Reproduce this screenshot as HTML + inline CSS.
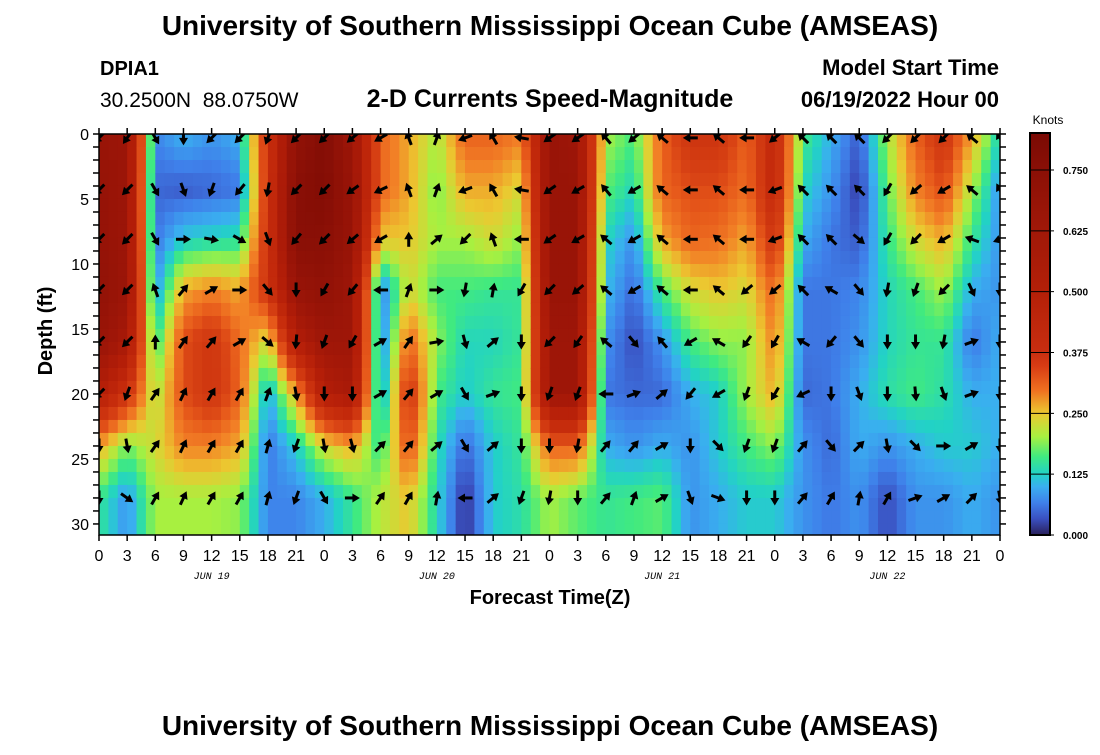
<!DOCTYPE html>
<html><head><meta charset="utf-8">
<style>
body{margin:0;background:#fff;}
svg text{font-family:"Liberation Sans",sans-serif;}
</style></head>
<body>
<svg id="chart" width="1100" height="750" xmlns="http://www.w3.org/2000/svg">
<rect width="1100" height="750" fill="#fff"/>
<text x="550" y="35" text-anchor="middle" font-size="28" font-weight="bold">University of Southern Mississippi Ocean Cube (AMSEAS)</text>
<text x="100" y="75" font-size="20" font-weight="bold">DPIA1</text>
<text x="100" y="107" font-size="21">30.2500N&#160;&#160;88.0750W</text>
<text x="550" y="107" text-anchor="middle" font-size="25" font-weight="bold">2-D Currents Speed-Magnitude</text>
<text x="999" y="75" text-anchor="end" font-size="22" font-weight="bold">Model Start Time</text>
<text x="999" y="107" text-anchor="end" font-size="22" font-weight="bold">06/19/2022 Hour 00</text>
<text transform="translate(52,331) rotate(-90)" text-anchor="middle" font-size="20" font-weight="bold">Depth (ft)</text>
<text x="550" y="604" text-anchor="middle" font-size="20" font-weight="bold">Forecast Time(Z)</text>
<text x="550" y="735" text-anchor="middle" font-size="28" font-weight="bold">University of Southern Mississippi Ocean Cube (AMSEAS)</text>
<defs><clipPath id="plotclip"><rect x="99" y="134" width="901" height="401"/></clipPath>
<linearGradient id="cbgrad" x1="0" y1="1" x2="0" y2="0">
<stop offset="0" stop-color="#2a1f5a"/><stop offset="0.04" stop-color="#3a50c0"/><stop offset="0.08" stop-color="#3f80ea"/>
<stop offset="0.12" stop-color="#3aaef0"/><stop offset="0.152" stop-color="#22d2c6"/><stop offset="0.195" stop-color="#40ea80"/>
<stop offset="0.245" stop-color="#a8f040"/><stop offset="0.303" stop-color="#ecc830"/><stop offset="0.36" stop-color="#f07020"/>
<stop offset="0.42" stop-color="#d83c14"/><stop offset="0.455" stop-color="#c82e10"/><stop offset="0.6" stop-color="#b42008"/>
<stop offset="0.76" stop-color="#a01808"/><stop offset="0.9" stop-color="#8c1006"/><stop offset="1" stop-color="#7a0a04"/>
</linearGradient></defs>
<g id="heat" clip-path="url(#plotclip)"></g>
<g id="arrows" clip-path="url(#plotclip)"></g>
<g id="axes"></g>
<g id="cbar"></g>
</svg>
<script>
const times = [0,3,6,9,12,15,18,21,24,27,30,33,36,39,42,45,48,51,54,57,60,63,66,69,72,75,78,81,84,87,90,93,96];
const depths = [0.3,4.3,8.1,12,16,20,24,28];
const speed = [
[0.68,0.70,0.70,0.72,0.68,0.55,0.27,0.15],
[0.66,0.66,0.66,0.66,0.60,0.42,0.18,0.08],
[0.07,0.05,0.06,0.08,0.14,0.20,0.23,0.20],
[0.10,0.04,0.12,0.27,0.36,0.36,0.30,0.20],
[0.08,0.05,0.13,0.30,0.42,0.42,0.30,0.20],
[0.10,0.06,0.14,0.27,0.32,0.33,0.27,0.19],
[0.42,0.42,0.42,0.42,0.22,0.09,0.06,0.07],
[0.72,0.76,0.76,0.68,0.55,0.27,0.12,0.07],
[0.79,0.79,0.76,0.72,0.65,0.55,0.23,0.10],
[0.65,0.68,0.68,0.65,0.65,0.60,0.27,0.15],
[0.33,0.33,0.25,0.06,0.06,0.07,0.14,0.21],
[0.27,0.27,0.25,0.23,0.33,0.42,0.36,0.25],
[0.20,0.18,0.20,0.16,0.19,0.16,0.14,0.13],
[0.33,0.27,0.20,0.16,0.13,0.12,0.05,0.01],
[0.33,0.27,0.23,0.15,0.13,0.15,0.12,0.12],
[0.30,0.23,0.19,0.15,0.15,0.16,0.15,0.14],
[0.68,0.68,0.68,0.68,0.65,0.65,0.33,0.20],
[0.65,0.68,0.68,0.68,0.65,0.65,0.33,0.17],
[0.20,0.17,0.13,0.11,0.08,0.06,0.10,0.15],
[0.16,0.13,0.08,0.05,0.03,0.05,0.08,0.16],
[0.33,0.33,0.27,0.16,0.08,0.05,0.10,0.17],
[0.42,0.36,0.33,0.23,0.16,0.10,0.08,0.08],
[0.42,0.36,0.32,0.25,0.19,0.12,0.12,0.10],
[0.33,0.32,0.27,0.23,0.19,0.20,0.16,0.12],
[0.48,0.48,0.42,0.33,0.30,0.27,0.19,0.12],
[0.16,0.13,0.10,0.06,0.06,0.05,0.08,0.08],
[0.10,0.08,0.06,0.06,0.06,0.06,0.05,0.06],
[0.04,0.02,0.04,0.07,0.08,0.10,0.10,0.08],
[0.20,0.17,0.15,0.13,0.13,0.14,0.08,0.03],
[0.33,0.30,0.23,0.16,0.15,0.16,0.10,0.08],
[0.42,0.36,0.27,0.20,0.15,0.14,0.12,0.08],
[0.27,0.20,0.15,0.10,0.06,0.10,0.12,0.10],
[0.12,0.08,0.08,0.08,0.10,0.10,0.10,0.08]
];
const direction = [
[225,225,225,225,225,225,180,180],
[215,225,225,225,225,200,170,125],
[150,150,150,340,0,35,35,30],
[180,160,90,40,35,25,25,25],
[225,200,100,60,40,30,30,30],
[225,220,120,90,60,30,30,30],
[200,190,160,140,130,20,15,15],
[225,225,220,180,185,170,200,200],
[225,225,225,210,200,180,170,150],
[230,235,230,220,210,180,165,90],
[240,245,240,270,60,60,45,35],
[340,340,0,20,35,40,40,30],
[20,20,50,90,80,60,50,10],
[250,250,225,190,165,150,150,270],
[330,330,340,10,50,70,50,50],
[280,280,270,210,180,180,180,200],
[235,235,235,225,225,200,180,190],
[235,240,240,230,215,200,190,180],
[320,320,310,310,310,270,40,40],
[230,240,240,240,140,70,40,20],
[310,310,310,310,320,50,60,60],
[270,270,270,270,240,220,180,160],
[310,310,310,310,300,240,135,110],
[270,270,270,230,215,200,200,180],
[230,250,250,230,210,210,200,180],
[315,315,315,315,300,245,40,40],
[315,315,315,300,220,180,140,30],
[315,315,130,140,140,160,45,10],
[225,210,210,190,180,180,170,30],
[225,230,225,200,180,175,135,70],
[225,240,240,225,190,160,90,60],
[310,310,290,155,70,70,60,45],
[330,330,250,180,180,180,180,170]
];
const xTickLabels = ["0","3","6","9","12","15","18","21","0","3","6","9","12","15","18","21","0","3","6","9","12","15","18","21","0","3","6","9","12","15","18","21","0"];
const dayLabels = ["JUN 19","JUN 20","JUN 21","JUN 22"];
const yTickLabels = ["0","5","10","15","20","25","30"];
const cbTickLabels = ["0.000","0.125","0.250","0.375","0.500","0.625","0.750"];

const NS="http://www.w3.org/2000/svg";
const X0=99,X1=1000,Y0=134,Y1=535,TMAX=96,DMAX=30.85,VMAX=0.826;
const xs=t=>X0+(X1-X0)*t/TMAX;
const ys=d=>Y0+(Y1-Y0)*d/DMAX;
function mk(tag,attrs,parent){const e=document.createElementNS(NS,tag);for(const k in attrs)e.setAttribute(k,attrs[k]);parent.appendChild(e);return e;}
const stops=[[0,[42,31,90]],[0.033,[58,80,192]],[0.066,[63,128,234]],[0.1,[58,174,240]],[0.125,[34,210,198]],[0.16,[64,234,128]],[0.2,[168,240,64]],[0.25,[236,200,48]],[0.3,[242,128,38]],[0.345,[230,88,26]],[0.375,[216,66,20]],[0.45,[198,44,12]],[0.55,[180,30,8]],[0.65,[158,22,8]],[0.75,[140,16,6]],[0.83,[122,10,4]]];
function cmap(v){v=Math.max(0,Math.min(0.83,v));for(let i=1;i<stops.length;i++){if(v<=stops[i][0]){const a=stops[i-1],b=stops[i],f=(v-a[0])/(b[0]-a[0]);return 'rgb('+a[1].map((c,j)=>Math.round(c+(b[1][j]-c)*f)).join(',')+')';}}return 'rgb(122,10,4)';}
function interp(t,d){
  let i=Math.min(times.length-2,Math.max(0,Math.floor(t/3)));let ft=(t-times[i])/3;ft=Math.max(0,Math.min(1,ft));
  let j=0;while(j<depths.length-2&&d>depths[j+1])j++;let fd=(d-depths[j])/(depths[j+1]-depths[j]);fd=Math.max(0,Math.min(1,fd));
  const a=speed[i][j],b=speed[i+1][j],c=speed[i][j+1],e=speed[i+1][j+1];
  return (a*(1-ft)+b*ft)*(1-fd)+(c*(1-ft)+e*ft)*fd;
}
const heat=document.getElementById('heat');
for(let t=0;t<96;t++){for(let d=0;d<31;d++){
  const r=mk('rect',{x:xs(t).toFixed(2),y:ys(d).toFixed(2),width:(xs(t+1)-xs(t)+0.6).toFixed(2),height:(ys(d+1)-ys(d)+0.6).toFixed(2),fill:cmap(interp(t+0.5,d+0.5))},heat);
  
  
}}
const arrows=document.getElementById('arrows');
times.forEach((t,i)=>{depths.forEach((d,j)=>{
  const cx=xs(t),cy=ys(d),a=direction[i][j]*Math.PI/180,L=7.5;
  const dx=Math.sin(a),dy=-Math.cos(a);
  const hx=cx+dx*L,hy=cy+dy*L,tx=cx-dx*L,ty=cy-dy*L;
  const g=mk('g',{},arrows);
  
  
  mk('line',{x1:tx,y1:ty,x2:cx+dx*3,y2:cy+dy*3,stroke:'#000','stroke-width':3},g);
  const px=-dy,py=dx;
  mk('polygon',{points:[hx,hy,hx-dx*7.5+px*4.5,hy-dy*7.5+py*4.5,hx-dx*7.5-px*4.5,hy-dy*7.5-py*4.5].map(v=>v.toFixed(1)).join(' '),fill:'#000'},g);
});});
const ax=document.getElementById('axes');
mk('rect',{x:X0,y:Y0,width:X1-X0,height:Y1-Y0,fill:'none',stroke:'#000','stroke-width':1.5},ax);
xTickLabels.forEach((lab,i)=>{const x=xs(i*3);
  mk('line',{x1:x,y1:Y0,x2:x,y2:Y0-6,stroke:'#000','stroke-width':1.5},ax);
  mk('line',{x1:x,y1:Y1,x2:x,y2:Y1+6,stroke:'#000','stroke-width':1.5},ax);
  const tx=mk('text',{x:x,y:Y1+26,'text-anchor':'middle','font-size':16},ax);tx.textContent=lab;
  
  
});
dayLabels.forEach((lab,i)=>{const tx=mk('text',{x:xs(i*24+12),y:Y1+44,'text-anchor':'middle','font-size':10,'font-style':'italic',style:'font-family:"Liberation Mono",monospace'},ax);tx.textContent=lab;
  
  
});
for(let d=0;d<=30;d++){const y=ys(d);
  mk('line',{x1:X0,y1:y,x2:X0-6,y2:y,stroke:'#000','stroke-width':1.5},ax);
  mk('line',{x1:X1,y1:y,x2:X1+6,y2:y,stroke:'#000','stroke-width':1.5},ax);}
yTickLabels.forEach((lab,i)=>{const tx=mk('text',{x:X0-10,y:ys(i*5)+6,'text-anchor':'end','font-size':16},ax);tx.textContent=lab;
  
  
});
const cb=document.getElementById('cbar');
const CB0=133,CB1=535,CX=1030,CW=20;
const cy=v=>CB1-(CB1-CB0)*v/VMAX;
mk('rect',{x:CX,y:CB0,width:CW,height:CB1-CB0,fill:'url(#cbgrad)',stroke:'#000','stroke-width':2},cb);
const kt=mk('text',{x:CX+18,y:124,'text-anchor':'middle','font-size':12},cb);kt.textContent='Knots';


cbTickLabels.forEach((lab,i)=>{const y=cy(i*0.125);
  mk('line',{x1:CX,y1:y,x2:CX+CW+4,y2:y,stroke:'#000','stroke-width':1},cb);
  const tx=mk('text',{x:CX+33,y:y+4,'font-size':10,'font-weight':'bold'},cb);tx.textContent=lab;
  
  
});
</script>
</body></html>
